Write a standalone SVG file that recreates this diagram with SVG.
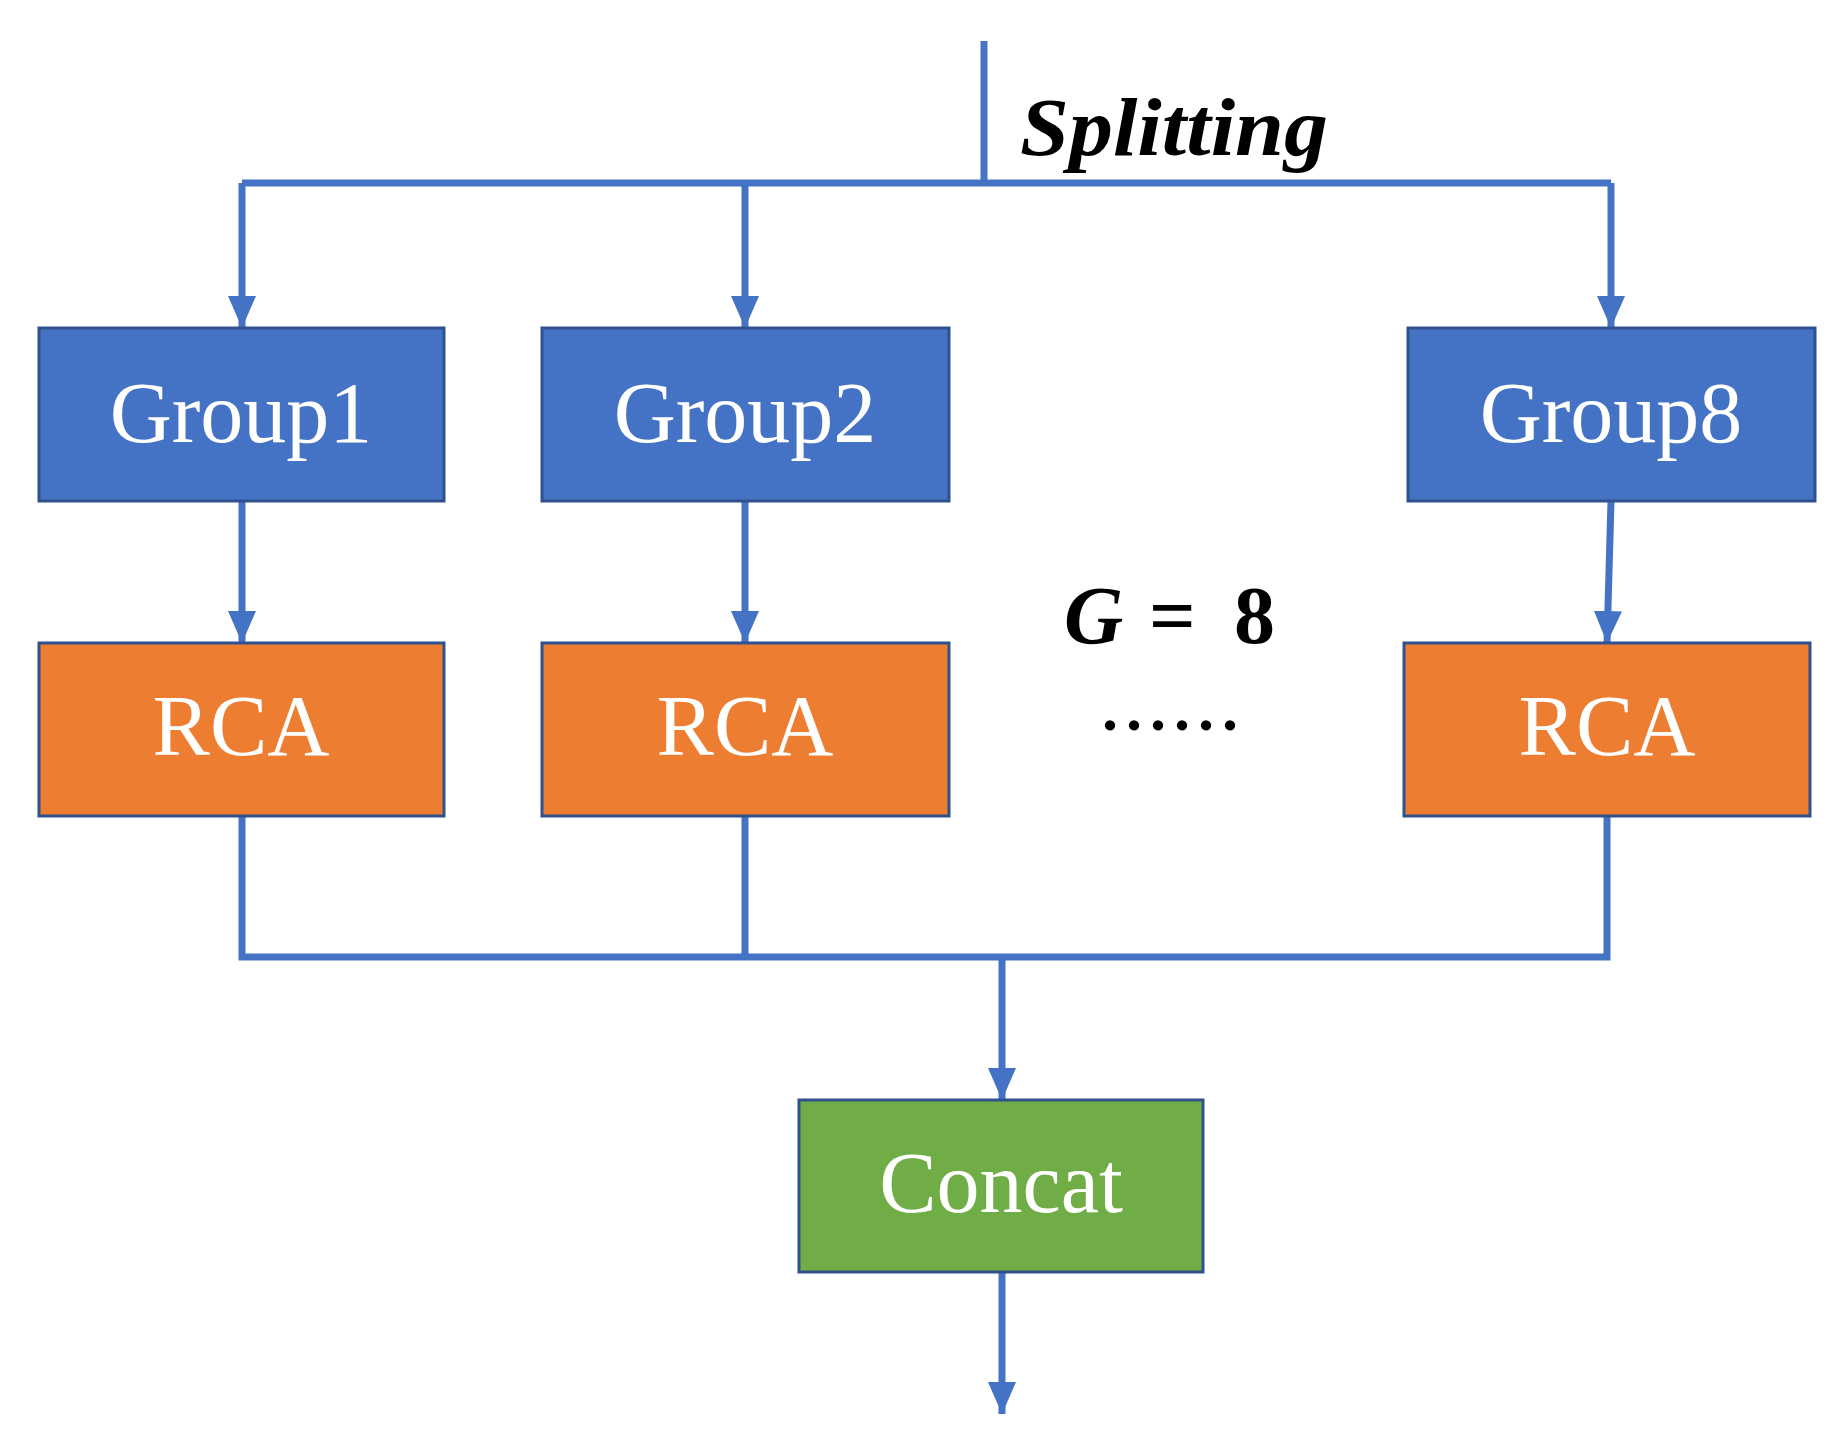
<svg xmlns="http://www.w3.org/2000/svg" width="1848" height="1443" viewBox="0 0 1848 1443">
<style>
.conn{fill:none;stroke:#4472C4;stroke-width:7;stroke-linejoin:miter}
.box{stroke:#2F528F;stroke-width:3}
.blue{fill:#4472C4}
.orange{fill:#ED7D31}
.green{fill:#70AD47}
.lbl{font-family:"Liberation Serif",serif;font-size:86px;fill:#ffffff;text-anchor:middle}
.math{font-family:"Liberation Serif",serif;fill:#000000}
</style>
<defs>
<marker id="ah" markerUnits="userSpaceOnUse" markerWidth="32" markerHeight="28" viewBox="0 0 32 28" refX="32" refY="14" orient="auto">
<path d="M0,0 L32,14 L0,28 Z" fill="#4472C4"/>
</marker>
</defs>
<rect width="1848" height="1443" fill="#ffffff"/>
<g id="connectors">
<path class="conn" d="M984,41 V183"/>
<path class="conn" d="M242,183 H1611"/>
<path class="conn" d="M242,183 V328" marker-end="url(#ah)"/>
<path class="conn" d="M745,183 V328" marker-end="url(#ah)"/>
<path class="conn" d="M1611,183 V328" marker-end="url(#ah)"/>
<path class="conn" d="M242,501 V643" marker-end="url(#ah)"/>
<path class="conn" d="M745,501 V643" marker-end="url(#ah)"/>
<path class="conn" d="M1611,501 L1607,643" marker-end="url(#ah)"/>
<path class="conn" d="M242,816 V957 H1607 V816"/>
<path class="conn" d="M745,816 V957"/>
<path class="conn" d="M1002,957 V1100" marker-end="url(#ah)"/>
<path class="conn" d="M1002,1272 V1414" marker-end="url(#ah)"/>
</g>
<g id="splitting-label">
<text class="math" x="1020" y="155" font-size="82" font-style="italic" font-weight="bold" textLength="308" lengthAdjust="spacingAndGlyphs">Splitting</text>
</g>
<g id="group1">
<rect class="box blue" x="39" y="328" width="405" height="173"/>
<text class="lbl" x="241" y="442">Group1</text>
</g>
<g id="group2">
<rect class="box blue" x="542" y="328" width="407" height="173"/>
<text class="lbl" x="745" y="442">Group2</text>
</g>
<g id="group8">
<rect class="box blue" x="1408" y="328" width="407" height="173"/>
<text class="lbl" x="1611" y="442">Group8</text>
</g>
<g id="rca1">
<rect class="box orange" x="39" y="643" width="405" height="173"/>
<text class="lbl" x="241" y="755">RCA</text>
</g>
<g id="rca2">
<rect class="box orange" x="542" y="643" width="407" height="173"/>
<text class="lbl" x="745" y="755">RCA</text>
</g>
<g id="rca8">
<rect class="box orange" x="1404" y="643" width="406" height="173"/>
<text class="lbl" x="1607" y="755">RCA</text>
</g>
<g id="g-label">
<text class="math" y="643" font-size="82" font-weight="bold"><tspan x="1064" font-style="italic">G</tspan><tspan x="1149">=</tspan><tspan x="1234">8</tspan></text>
<text class="math" x="1102" y="730" font-size="64" font-weight="bold" textLength="136" lengthAdjust="spacing">......</text>
</g>
<g id="concat">
<rect class="box green" x="799" y="1100" width="404" height="172"/>
<text class="lbl" x="1001" y="1212">Concat</text>
</g>
</svg>
